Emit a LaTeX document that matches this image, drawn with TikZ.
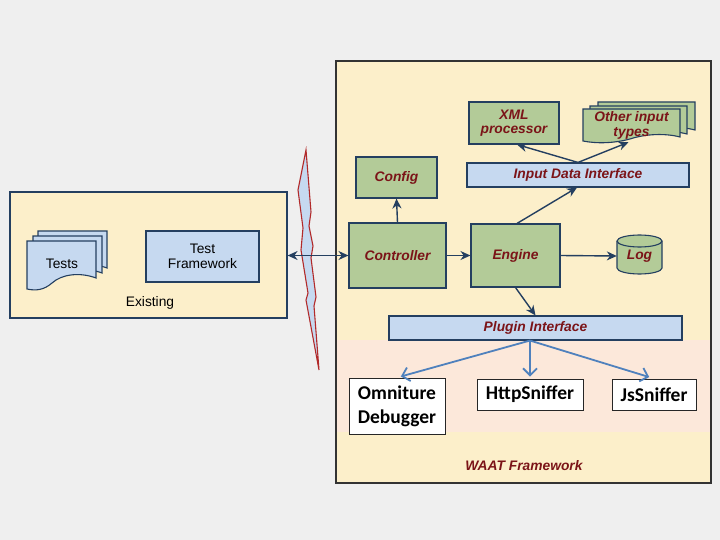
\documentclass[tikz,border=0pt]{standalone}
\usepackage{fontspec}
\setmainfont{Liberation Sans}
\newfontfamily\calib{Carlito}
\usetikzlibrary{arrows.meta}
\definecolor{bgc}{HTML}{EFEFEF}
\definecolor{ylw}{HTML}{FCEFCA}
\definecolor{pnk}{HTML}{FCE8DA}
\definecolor{grn}{HTML}{B3CB98}
\definecolor{lblue}{HTML}{C6D9F0}
\definecolor{navy}{HTML}{243F60}
\definecolor{dred}{HTML}{7B1418}
\definecolor{arblue}{HTML}{4F81BD}
\definecolor{boltred}{HTML}{B22A2A}
\tikzset{
  box/.style={draw=navy, line width=1.1pt, inner sep=0pt, align=center},
  greenbox/.style={box, fill=grn, text=dred, font=\bfseries\itshape\fontsize{13.8}{14.5}\selectfont},
  bluebar/.style={box, fill=lblue, text=dred, font=\bfseries\itshape\fontsize{13.8}{14.5}\selectfont},
  plainbox/.style={box, fill=lblue, font=\fontsize{13.8}{15}\selectfont},
  whitebox/.style={draw=black!85, line width=0.9pt, fill=white, inner sep=0pt, align=center, font=\calib\bfseries\fontsize{19.5}{24}\selectfont},
  arr/.style={draw=navy, line width=1.4pt, -{Stealth[length=10pt,width=9pt]}},
  barr/.style={draw=arblue, line width=1.8pt, -{Straight Barb[length=7pt,width=14pt]}},
  docpart/.style={draw=navy, line width=1.1pt},
}
\begin{document}
\begin{tikzpicture}[x=1pt,y=-1pt]
\useasboundingbox (0,0) rectangle (720,540);
\fill[bgc] (0,0) rectangle (720,540);

% Existing container
\node[draw=navy, line width=1.2pt, fill=ylw, minimum width=277pt, minimum height=126pt] (exist) at (148.5,255) {};
\node[font=\fontsize{13.8}{15}\selectfont] (existlbl) at (150,303) {Existing};

% Tests stack
\foreach \dx/\dy in {11/-10, 6/-5, 0/0} {
  \filldraw[docpart, fill=lblue, shift={(\dx,\dy)}]
    (27,241) -- (96,241) -- (96,278)
    .. controls (80,272) and (62,274) .. (52,283)
    .. controls (44,290) and (36,291) .. (27,289) -- cycle;
}
\node[font=\fontsize{13.8}{15}\selectfont] (tests) at (62,264) {Tests};

\node[plainbox, minimum width=113pt, minimum height=51pt] (tf) at (202.5,256.5) {Test\\Framework};

% WAAT container
\node[draw=black!80, line width=1.2pt, fill=ylw, minimum width=375pt, minimum height=422pt] (waat) at (523.5,272) {};
\fill[pnk] (337,340) rectangle (710,432);
\node[text=dred, font=\bfseries\itshape\fontsize{13.8}{15}\selectfont] (waatlbl) at (524,466) {WAAT Framework};

% lightning bolt
\filldraw[draw=boltred, fill=lblue, line width=1.1pt]
  (306,150) -- (298,190) -- (303,228) -- (301,250) -- (308,293) -- (306,300) -- (319,370)
  -- (314,306) -- (316,297) -- (311,258) -- (313,246) -- (309,226) -- (311,212) -- cycle;

% nodes
\node[greenbox, minimum width=81pt, minimum height=41pt] (config) at (396.5,177.5) {Config};
\node[greenbox, minimum width=90pt, minimum height=42pt] (xml) at (514,123) {XML\\processor};

% other input types stack
\foreach \dx/\dy in {15/-7, 7/-3, 0/0} {
  \filldraw[docpart, fill=grn, shift={(\dx,\dy)}]
    (583,109) -- (680,109) -- (680,137)
    .. controls (665,133) and (645,134) .. (630,139)
    .. controls (615,143) and (598,144) .. (583,141) -- cycle;
}
\node[text=dred, font=\bfseries\itshape\fontsize{13.8}{14.5}\selectfont, align=center, inner sep=0pt, minimum width=97pt, minimum height=33pt] (other) at (631.5,125.5) {Other input\\types};

\node[bluebar, minimum width=222pt, minimum height=24pt] (idi) at (578,175) {Input Data Interface};
\node[greenbox, minimum width=97pt, minimum height=65pt] (ctrl) at (397.5,255.5) {Controller};
\node[greenbox, minimum width=89pt, minimum height=63pt] (engine) at (515.5,255.5) {Engine};

% Log cylinder
\filldraw[docpart, fill=grn] (617,241) -- (617,268) arc[start angle=180, end angle=360, x radius=22.5pt, y radius=6pt]
  -- (662,241) arc[start angle=0, end angle=180, x radius=22.5pt, y radius=6pt] -- cycle;
\draw[docpart] (617,241) arc[start angle=180, end angle=360, x radius=22.5pt, y radius=6pt];
\node[text=dred, font=\bfseries\itshape\fontsize{13.8}{15}\selectfont, minimum width=45pt, minimum height=38pt, inner sep=0pt] (log) at (639.5,256) {\raisebox{-4pt}{Log}};

\node[bluebar, minimum width=293pt, minimum height=24pt] (plugin) at (535.5,328) {Plugin Interface};

\node[whitebox, minimum width=96pt, minimum height=56pt] (omni) at (397,406) {Omniture\\Debugger};
\node[whitebox, minimum width=106pt, minimum height=31pt] (http) at (530,394.5) {HttpSniffer};
\node[whitebox, minimum width=84pt, minimum height=31pt] (js) at (654,394.5) {JsSniffer};

% connectors
\draw[arr, {Stealth[length=10pt,width=9pt]}-{Stealth[length=10pt,width=9pt]}] (ctrl.west -| exist.east) -- (ctrl.west);
\draw[arr] (ctrl.north) -- (config.south);
\draw[arr] (ctrl.east) -- (engine.west);
\draw[arr] (engine.east) -- (log.west);
\draw[arr] ([xshift=1.5pt]engine.north) -- ([xshift=-1pt]idi.south);
\draw[arr] (idi.north) -- ([xshift=3pt]xml.south);
\draw[arr] (idi.north) -- ([xshift=-3pt]other.south);
\draw[arr] (engine.south) -- (plugin.north);
\draw[barr, shorten >=4pt] ([xshift=-5.5pt]plugin.south) -- (omni.north);
\draw[barr, shorten >=2pt] ([xshift=-5.5pt]plugin.south) -- (http.north);
\draw[barr, shorten >=5pt] ([xshift=-5.5pt]plugin.south) -- (js.north);
\end{tikzpicture}
\end{document}
